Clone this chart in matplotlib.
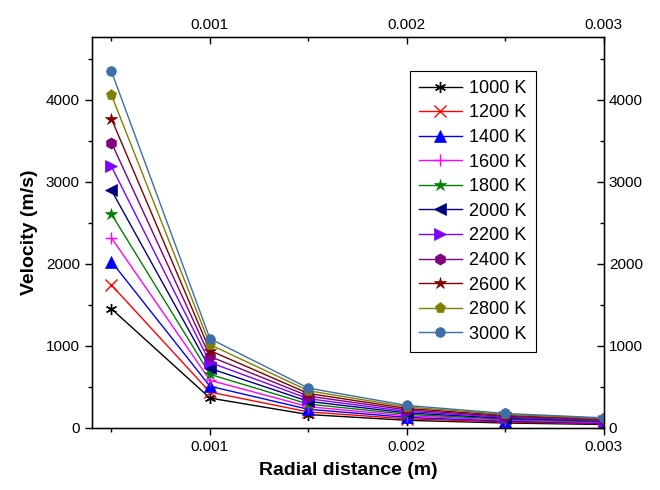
import numpy as np
import matplotlib
matplotlib.use("Agg")
import matplotlib.pyplot as plt
from matplotlib.ticker import FixedLocator

plt.rcParams['font.family'] = ['Liberation Sans', 'DejaVu Sans']

# ---------------- DATA ----------------
radial = [0.0005, 0.001, 0.0015, 0.002, 0.0025, 0.003]
temps = ["1000 K", "1200 K", "1400 K", "1600 K", "1800 K", "2000 K",
         "2200 K", "2400 K", "2600 K", "2800 K", "3000 K"]

v1000 = [1450, 362, 161, 91, 58, 40]
v1200 = [1740, 435, 193, 109, 70, 48]
v1400 = [2025, 506, 225, 127, 81, 56]
v1600 = [2315, 579, 257, 145, 93, 64]
v1800 = [2605, 651, 289, 163, 104, 72]
v2000 = [2895, 724, 322, 181, 116, 80]
v2200 = [3185, 796, 354, 199, 127, 88]
v2400 = [3475, 869, 386, 217, 139, 97]
v2600 = [3765, 941, 418, 235, 151, 105]
v2800 = [4055, 1014, 451, 253, 162, 113]
v3000 = [4345, 1086, 483, 272, 174, 121]

series = [v1000, v1200, v1400, v1600, v1800, v2000,
          v2200, v2400, v2600, v2800, v3000]

x_major = [0.001, 0.002, 0.003]
x_minor = [0.0005, 0.0015, 0.0025]
y_major = [0, 1000, 2000, 3000, 4000]
y_minor = [500, 1500, 2500, 3500, 4500]

# ---------------- STYLE ----------------
colors = ["#000000", "#FF0000", "#0000FF", "#FF00FF", "#008000", "#000080",
          "#8000FF", "#800080", "#800000", "#808000", "#3C6FAA"]
markers = [(6, 2, 0), "x", "^", "+", "*", "<", ">", "h", "*", "p", "o"]
msizes = [8, 8, 8, 9, 9, 8, 8, 8, 9, 8, 7]

fig = plt.figure(figsize=(6.6, 4.9), dpi=100)
ax = fig.add_axes([0.139, 0.127, 0.776, 0.797])

for y, lab, c, m, ms in zip(series, temps, colors, markers, msizes):
    ax.plot(radial, y, color=c, marker=m, markersize=ms, lw=1.0,
            markeredgewidth=1.0 if m in ("x", "+", (6, 2, 0)) else 0.5,
            markeredgecolor=c, label=lab)

ax.set_xlim(0.0004, 0.003)
ax.set_ylim(0, 4760)

fmt = plt.FuncFormatter(lambda v, p: f"{v:.3f}")


def set_ticks(a, direction):
    a.xaxis.set_major_locator(FixedLocator(x_major))
    a.xaxis.set_minor_locator(FixedLocator(x_minor))
    a.xaxis.set_major_formatter(fmt)
    a.yaxis.set_major_locator(FixedLocator(y_major))
    a.yaxis.set_minor_locator(FixedLocator(y_minor))
    a.tick_params(which="major", direction=direction, length=5, width=1,
                  labelsize=11)
    a.tick_params(which="minor", direction=direction, length=3, width=1)


set_ticks(ax, "out")
for s in ax.spines.values():
    s.set_linewidth(1.0)

# mirrored top / right axes with inward ticks
axt = ax.twiny()
axt.set_xlim(ax.get_xlim())
axr = ax.twinx()
axr.set_ylim(ax.get_ylim())
set_ticks(axt, "in")
set_ticks(axr, "in")
axt.tick_params(axis="y", left=False, right=False, labelleft=False, labelright=False)
axr.tick_params(axis="x", top=False, bottom=False, labeltop=False, labelbottom=False)

ax.set_xlabel("Radial distance (m)", fontsize=14, fontweight="bold", labelpad=6)
ax.set_ylabel("Velocity (m/s)", fontsize=14, fontweight="bold", labelpad=6)

leg = ax.legend(loc="upper left", bbox_to_anchor=(0.603, 0.937),
                fontsize=13, frameon=True, fancybox=False, framealpha=1,
                edgecolor="black", handlelength=2.4, labelspacing=0.42,
                borderpad=0.5, handletextpad=0.4)
leg.get_frame().set_linewidth(0.8)
leg.set_zorder(5)
axt.set_zorder(ax.get_zorder() - 1)
axr.set_zorder(ax.get_zorder() - 1)
ax.patch.set_visible(False)

fig.savefig("out.png", dpi=100)
